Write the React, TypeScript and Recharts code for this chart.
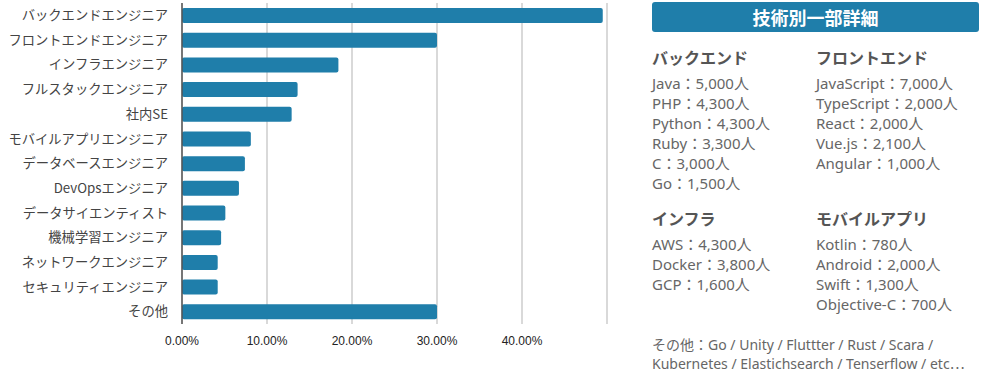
import React from "react";
import { BarChart, Bar, XAxis, YAxis, CartesianGrid } from "recharts";

const categories = [
  "バックエンドエンジニア",
  "フロントエンドエンジニア",
  "インフラエンジニア",
  "フルスタックエンジニア",
  "社内SE",
  "モバイルアプリエンジニア",
  "データベースエンジニア",
  "DevOpsエンジニア",
  "データサイエンティスト",
  "機械学習エンジニア",
  "ネットワークエンジニア",
  "セキュリティエンジニア",
  "その他",
];
const shares = [49.5, 30.0, 18.4, 13.6, 12.9, 8.1, 7.4, 6.7, 5.1, 4.6, 4.2, 4.2, 30.0];
const xTicks = [0, 10, 20, 30, 40, 50];
const labeledTicks = [0, 10, 20, 30, 40];

const panelTitle = "技術別一部詳細";
const backendTitle = "バックエンド";
const backendItems = ["Java：5,000人", "PHP：4,300人", "Python：4,300人", "Ruby：3,300人", "C：3,000人", "Go：1,500人"];
const frontendTitle = "フロントエンド";
const frontendItems = ["JavaScript：7,000人", "TypeScript：2,000人", "React：2,000人", "Vue.js：2,100人", "Angular：1,000人"];
const infraTitle = "インフラ";
const infraItems = ["AWS：4,300人", "Docker：3,800人", "GCP：1,600人"];
const mobileTitle = "モバイルアプリ";
const mobileItems = ["Kotlin：780人", "Android：2,000人", "Swift：1,300人", "Objective-C：700人"];
const otherLine1 = "その他：Go / Unity / Fluttter / Rust / Scara /";
const otherLine2 = "Kubernetes / Elastichsearch / Tenserflow / etc";
const ellipsis = "…";

const data = categories.map((name, i) => ({ name, value: shares[i] }));

const BLUE = "#1f7eaa";
const CJK = "'Noto Sans CJK JP', sans-serif";
const MIXED = "'Noto Sans', 'Noto Sans CJK JP', sans-serif";

function Section({ x, y, title, items }: { x: number; y: number; title: string; items: string[] }) {
  return (
    <div style={{ position: "absolute", left: x, top: y }}>
      <div style={{ fontSize: 16, fontWeight: 700, color: "#555", lineHeight: "20px", marginBottom: 6, whiteSpace: "nowrap", fontFamily: CJK }}>{title}</div>
      {items.map((t) => (
        <div key={t} style={{ fontSize: 15, color: "#666", lineHeight: "20px", whiteSpace: "nowrap", fontFamily: MIXED }}>{t}</div>
      ))}
    </div>
  );
}

export default function App() {
  return (
    <div style={{ position: "absolute", left: 0, top: 0, width: 991, height: 377, background: "#fff", fontFamily: CJK }}>
      <BarChart
        width={640}
        height={377}
        data={data}
        layout="vertical"
        margin={{ top: 3, right: 33, bottom: 23, left: 0 }}
        barSize={15}
      >
        <CartesianGrid horizontal={false} stroke="#d9d9d9" strokeWidth={2} />
        <XAxis
          type="number"
          domain={[0, 50]}
          ticks={xTicks}
          tickFormatter={(v: number) => (labeledTicks.includes(v) ? `${v.toFixed(2)}%` : "")}
          axisLine={false}
          tickLine={false}
          tickMargin={6}
          height={30}
          tick={{ fontSize: 12, fill: "#222", fontFamily: "'Liberation Sans', Arial, sans-serif" }}
        />
        <YAxis
          type="category"
          dataKey="name"
          width={182}
          axisLine={{ stroke: "#555", strokeWidth: 1.5 }}
          tickLine={false}
          tickMargin={8}
          interval={0}
          tick={{ fontSize: 13.3, fill: "#444", fontFamily: CJK }}
        />
        <Bar dataKey="value" fill={BLUE} radius={2} isAnimationActive={false} />
      </BarChart>

      <div
        style={{
          position: "absolute",
          left: 652,
          top: 2,
          width: 327,
          height: 30,
          background: BLUE,
          borderRadius: 3,
          color: "#fff",
          fontSize: 18,
          fontWeight: 700,
          textAlign: "center",
          lineHeight: "30px",
        }}
      >
        {panelTitle}
      </div>

      <Section x={652} y={47} title={backendTitle} items={backendItems} />
      <Section x={816} y={47} title={frontendTitle} items={frontendItems} />
      <Section x={652} y={208} title={infraTitle} items={infraItems} />
      <Section x={816} y={208} title={mobileTitle} items={mobileItems} />

      <div style={{ position: "absolute", left: 652, top: 336, fontSize: 14, color: "#666", lineHeight: "18px", whiteSpace: "nowrap", fontFamily: MIXED }}>
        <div>{otherLine1}</div>
        <div>
          {otherLine2}
          <span style={{ fontFamily: CJK }}>{ellipsis}</span>
        </div>
      </div>
    </div>
  );
}
